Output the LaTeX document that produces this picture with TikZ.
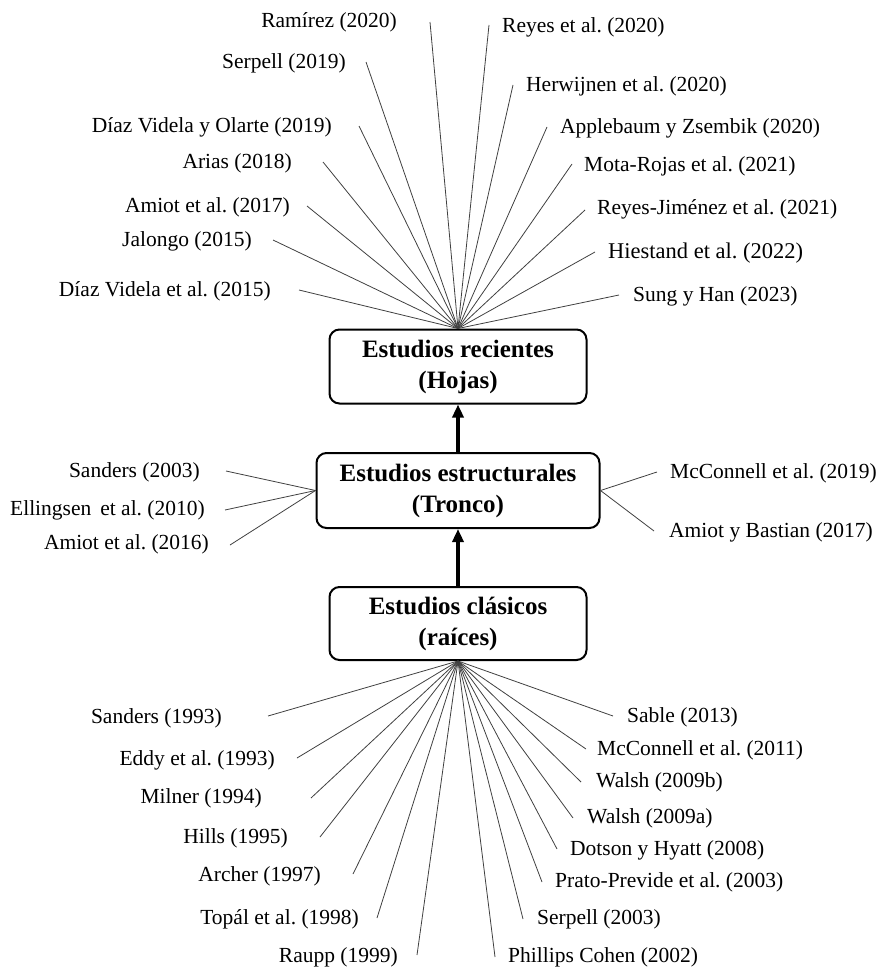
\documentclass[tikz,border=0pt]{standalone}
\usepackage{fontspec}
\setmainfont{Liberation Serif}
\usetikzlibrary{arrows.meta}
\frenchspacing

\tikzset{
  etapa/.style={draw, line width=2pt, rounded corners=10pt, align=center,
    font=\bfseries\fontsize{25}{31}\selectfont, inner sep=0pt,
    minimum width=257pt, minimum height=74pt},
  cita/.style={inner sep=0pt, font=\fontsize{21.5}{26}\selectfont},
  rama/.style={draw=black!75, line width=0.8pt},
  avance/.style={line width=3.5pt, -{Triangle[length=13pt,width=11pt]}}
}

\begin{document}
\begin{tikzpicture}[x=1pt,y=-1pt]
\useasboundingbox (0,0) rectangle (880,969);

% etapas
\node [etapa] (hojas) at (458,366.5) {Estudios recientes\\(Hojas)};
\node [etapa, minimum width=283pt, minimum height=75pt] (tronco) at (458,490.5) {Estudios estructurales\\(Tronco)};
\node [etapa, minimum height=73pt] (raices) at (458,623.5) {Estudios clásicos\\(raíces)};

\draw [avance] (tronco.north) -- (hojas.south);
\draw [avance] (raices.north) -- (tronco.south);

% hojas, izquierda
\node [cita, anchor=east] (ramirez) at (397,22) {Ramírez (2020)};
\node [cita, anchor=east] (serpellB) at (346,63) {Serpell (2019)};
\node [cita, anchor=east] (diazB) at (332,127) {Díaz Videla y Olarte (2019)};
\node [cita, anchor=east] (arias) at (292,163) {Arias (2018)};
\node [cita, anchor=east] (amiotC) at (290,207) {Amiot et al. (2017)};
\node [cita, anchor=east] (jalongo) at (252,241) {Jalongo (2015)};
\node [cita, anchor=east] (diazA) at (271,291) {Díaz Videla et al. (2015)};
\coordinate (ramirez-r) at (430,22);
\coordinate (serpellB-r) at (366,62);
\coordinate (diazB-r) at (359,126);
\coordinate (arias-r) at (323,162);
\coordinate (amiotC-r) at (307,206);
\coordinate (jalongo-r) at (273,240);
\coordinate (diazA-r) at (299,290);

% hojas, derecha
\node [cita, anchor=west] (reyes) at (502,27) {Reyes et al. (2020)};
\node [cita, anchor=west] (herwijnen) at (526,86) {Herwijnen et al. (2020)};
\node [cita, anchor=west] (applebaum) at (560,128) {Applebaum y Zsembik (2020)};
\node [cita, anchor=west] (mota) at (584,166) {Mota-Rojas et al. (2021)};
\node [cita, anchor=west] (reyesj) at (597,209) {Reyes-Jiménez et al. (2021)};
\node [cita, anchor=west, font=\fontsize{22.5}{27}\selectfont] (hiestand) at (608,253) {Hiestand et al. (2022)};
\node [cita, anchor=west] (sung) at (633,296) {Sung y Han (2023)};
\coordinate (reyes-r) at (489,25);
\coordinate (herwijnen-r) at (513,85);
\coordinate (applebaum-r) at (547,127);
\coordinate (mota-r) at (572,164);
\coordinate (reyesj-r) at (585,210);
\coordinate (hiestand-r) at (595,252);
\coordinate (sung-r) at (619,295);

\foreach \c in {ramirez,serpellB,diazB,arias,amiotC,jalongo,diazA,
                reyes,herwijnen,applebaum,mota,reyesj,hiestand,sung}
  \draw [rama] (\c-r) -- (hojas.north);

% tronco
\node [cita, anchor=east] (sandersB) at (200,472) {Sanders (2003)};
\node [cita, anchor=east] (ellingsen) at (205,510) {Ellingsen\, et al. (2010)};
\node [cita, anchor=east] (amiotB) at (209,544) {Amiot et al. (2016)};
\node [cita, anchor=west] (mcconnellB) at (670,473) {McConnell et al. (2019)};
\node [cita, anchor=west] (amiotA) at (669,532) {Amiot y Bastian (2017)};
\coordinate (sandersB-r) at (226,471);
\coordinate (ellingsen-r) at (225,510);
\coordinate (amiotB-r) at (230,545);
\coordinate (mcconnellB-r) at (657,472);
\coordinate (amiotA-r) at (654,531);

\foreach \c in {sandersB,ellingsen,amiotB}
  \draw [rama] (\c-r) -- (tronco.west);
\foreach \c in {mcconnellB,amiotA}
  \draw [rama] (\c-r) -- (tronco.east);

% raices, izquierda
\node [cita, anchor=east] (sandersA) at (222,718) {Sanders (1993)};
\node [cita, anchor=east] (eddy) at (275,760) {Eddy et al. (1993)};
\node [cita, anchor=east] (milner) at (262,798) {Milner (1994)};
\node [cita, anchor=east] (hills) at (288,838) {Hills (1995)};
\node [cita, anchor=east] (archer) at (321,876) {Archer (1997)};
\node [cita, anchor=east] (topal) at (359,919) {Topál et al. (1998)};
\node [cita, anchor=east] (raupp) at (398,957) {Raupp (1999)};
\coordinate (sandersA-r) at (268,716);
\coordinate (eddy-r) at (297,758);
\coordinate (milner-r) at (311,798);
\coordinate (hills-r) at (320,837);
\coordinate (archer-r) at (353,874);
\coordinate (topal-r) at (377,918);
\coordinate (raupp-r) at (417,955);

% raices, derecha
\node [cita, anchor=west] (sable) at (627,717) {Sable (2013)};
\node [cita, anchor=west] (mcconnellA) at (597,750) {McConnell et al. (2011)};
\node [cita, anchor=west] (walshB) at (596,782) {Walsh (2009b)};
\node [cita, anchor=west] (walshA) at (587,818) {Walsh (2009a)};
\node [cita, anchor=west] (dotson) at (570,850) {Dotson y Hyatt (2008)};
\node [cita, anchor=west] (prato) at (555,882) {Prato-Previde et al. (2003)};
\node [cita, anchor=west] (serpellA) at (537,919) {Serpell (2003)};
\node [cita, anchor=west] (phillips) at (508,957) {Phillips Cohen (2002)};
\coordinate (sable-r) at (613,716);
\coordinate (mcconnellA-r) at (586,749);
\coordinate (walshB-r) at (581,782);
\coordinate (walshA-r) at (573,818);
\coordinate (dotson-r) at (557,849);
\coordinate (prato-r) at (542,882);
\coordinate (serpellA-r) at (523,919);
\coordinate (phillips-r) at (495,957);

\foreach \c in {sandersA,eddy,milner,hills,archer,topal,raupp,
                sable,mcconnellA,walshB,walshA,dotson,prato,serpellA,phillips}
  \draw [rama] (raices.south) -- (\c-r);

\end{tikzpicture}
\end{document}
